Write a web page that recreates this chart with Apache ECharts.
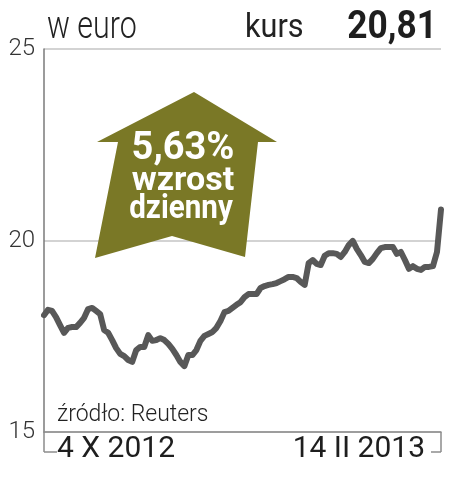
<!DOCTYPE html>
<html>
<head>
<meta charset="utf-8">
<script src="https://cdn.jsdelivr.net/npm/echarts@6/dist/echarts.min.js"></script>
<style>
  html, body { margin: 0; padding: 0; background: #fff; }
  #chart { width: 464px; height: 489px; }
</style>
</head>
<body>
<div id="chart"></div>
<script>
// kurs w euro, sesje od 4 X 2012 do 14 II 2013
var prices = [
  18.05, 18.19, 18.16, 18.00, 17.79, 17.59, 17.72, 17.74, 17.74, 17.85,
  17.98, 18.21, 18.24, 18.16, 18.08, 17.66, 17.59, 17.40, 17.19, 17.04,
  16.98, 16.88, 16.83, 17.14, 17.22, 17.22, 17.53, 17.38, 17.40, 17.45,
  17.40, 17.30, 17.17, 17.01, 16.83, 16.72, 17.01, 17.01, 17.14, 17.38,
  17.51, 17.56, 17.61, 17.72, 17.90, 18.13, 18.16, 18.24, 18.32, 18.39,
  18.52, 18.60, 18.60, 18.60, 18.76, 18.81, 18.84, 18.86, 18.89, 18.94,
  18.99, 19.05, 19.05, 19.02, 18.92, 18.84, 19.41, 19.49, 19.39, 19.36,
  19.60, 19.67, 19.67, 19.65, 19.57, 19.70, 19.88, 19.99, 19.78, 19.62,
  19.44, 19.41, 19.52, 19.67, 19.80, 19.83, 19.83, 19.83, 19.65, 19.70,
  19.49, 19.26, 19.33, 19.26, 19.23, 19.31, 19.31, 19.33, 19.70, 20.81
];
var dateLabels = ['4 X 2012', '14 II 2013'];
var yTicks = [15, 20, 25];
var lastPrice = '20,81';
var dailyChange = '5,63%';

var chartDom = document.getElementById('chart');
var myChart = echarts.init(chartDom);
var option;

var last = prices.length - 1;

option = {
  animation: false,
  grid: { left: 44, right: 23, top: 49, bottom: 57 },
  xAxis: {
    type: 'value',
    min: 0,
    max: last,
    interval: last,
    axisLine: { show: true, lineStyle: { color: '#8c8c8c', width: 1.5 } },
    axisTick: { show: true, length: 20, lineStyle: { color: '#8c8c8c', width: 1.5 } },
    splitLine: { show: false },
    axisLabel: {
      margin: 2,
      fontFamily: 'Roboto',
      fontSize: 30,
      color: '#1e1e1e',
      padding: [0, 16, 0, 13],
      alignMinLabel: 'left',
      alignMaxLabel: 'right',
      formatter: function (v) {
        return v === 0 ? dateLabels[0] : dateLabels[1];
      }
    }
  },
  yAxis: {
    type: 'value',
    min: yTicks[0],
    max: yTicks[yTicks.length - 1],
    interval: yTicks[1] - yTicks[0],
    axisLine: { show: true, lineStyle: { color: '#7a7a7a', width: 1.5 } },
    axisTick: { show: false },
    splitLine: { show: true, lineStyle: { color: '#c4c4c4', width: 1.5 } },
    axisLabel: {
      margin: 9,
      fontFamily: 'Roboto',
      fontWeight: 300,
      fontSize: 24,
      color: '#333'
    }
  },
  series: [
    {
      type: 'line',
      data: prices.map(function (v, i) { return [i, v]; }),
      showSymbol: false,
      symbol: 'none',
      lineStyle: { color: '#585858', width: 6, join: 'round', cap: 'round' },
      z: 3
    }
  ]
};

option && myChart.setOption(option);

// dopiski, strzałka i haczyki osi
var p0 = myChart.convertToPixel({ gridIndex: 0 }, [0, yTicks[0]]);
var p1 = myChart.convertToPixel({ gridIndex: 0 }, [last, yTicks[0]]);

myChart.setOption({
  graphic: [
    { type: 'polyline', shape: { points: [[p0[0], p0[1] + 20], [p0[0] + 13, p0[1] + 20]] },
      style: { stroke: '#8c8c8c', lineWidth: 1.5 } },
    { type: 'polyline', shape: { points: [[p1[0] - 10, p1[1] + 20], [p1[0], p1[1] + 20]] },
      style: { stroke: '#8c8c8c', lineWidth: 1.5 } },
    { type: 'text', x: 47, y: 28, scaleX: 0.8,
      style: { text: 'w euro', fontFamily: 'Roboto', fontWeight: 300, fontSize: 38, fill: '#222', align: 'left', verticalAlign: 'middle' } },
    { type: 'text', x: 245, y: 28, scaleX: 0.9,
      style: { text: 'kurs', fontFamily: 'Roboto', fontWeight: 400, fontSize: 34, fill: '#222', align: 'left', verticalAlign: 'middle' } },
    { type: 'text', x: 437, y: 28, scaleX: 0.93,
      style: { text: lastPrice, fontFamily: 'Roboto', fontWeight: 'bold', fontSize: 38, fill: '#1e1e1e', align: 'right', verticalAlign: 'middle' } },
    { type: 'text', x: 57, y: 415,
      style: { text: 'źródło: Reuters', fontFamily: 'Roboto', fontWeight: 300, fontSize: 23, fill: '#222', align: 'left', verticalAlign: 'middle' } },
    { type: 'polygon', z: 10,
      shape: { points: [[194, 92], [277, 142], [258, 142], [245, 257], [172, 236], [95, 258], [118, 142], [97, 142]] },
      style: { fill: '#7a7826' } },
    { type: 'text', z: 11, x: 183, y: 149,
      style: { text: dailyChange, fontFamily: 'Roboto', fontWeight: 'bold', fontSize: 38, fill: '#fff', align: 'center', verticalAlign: 'middle' } },
    { type: 'text', z: 11, x: 183, y: 181, scaleX: 1,
      style: { text: 'wzrost', fontFamily: 'Roboto', fontWeight: 'bold', fontSize: 34, fill: '#fff', align: 'center', verticalAlign: 'middle' } },
    { type: 'text', z: 11, x: 181, y: 209, scaleX: 0.87,
      style: { text: 'dzienny', fontFamily: 'Roboto', fontWeight: 'bold', fontSize: 34, fill: '#fff', align: 'center', verticalAlign: 'middle' } }
  ]
});
</script>
</body>
</html>
